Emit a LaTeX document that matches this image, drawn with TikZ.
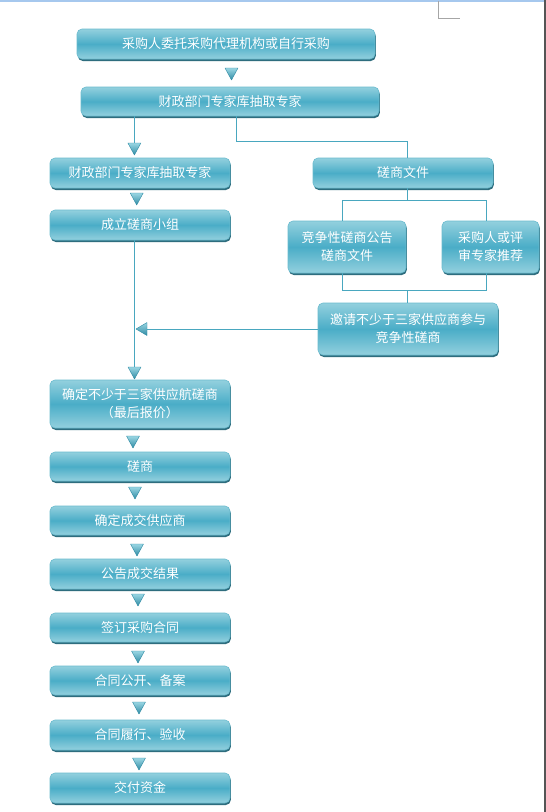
\documentclass[tikz,border=0pt]{standalone}
\usepackage{fontspec}
\newfontfamily\cjk{Noto Sans CJK SC}
\usetikzlibrary{shadows,calc}
\definecolor{conncol}{HTML}{49A7BF}
\definecolor{boxlt}{HTML}{93D0DE}
\definecolor{boxmid}{HTML}{4AADC7}
\definecolor{boxedge}{HTML}{6ABBCE}
\definecolor{boxshadow}{HTML}{2E6D7E}
\definecolor{trilt}{HTML}{9AD6E3}
\definecolor{tridk}{HTML}{2F8BA4}
\definecolor{topcol}{HTML}{A6C8EE}
\definecolor{rightcol}{HTML}{555555}
\tikzset{
  box/.style={rectangle, rounded corners=5pt, draw=boxedge, line width=0.6pt,
    top color=boxlt, bottom color=boxlt, middle color=boxmid, text=white,
    font=\cjk\fontsize{13}{18}\selectfont, align=center, inner sep=0pt,
    drop shadow={shadow xshift=0.8pt, shadow yshift=-2pt, fill=boxshadow, opacity=1}},
  tri/.style={top color=trilt, bottom color=tridk, draw=tridk, line width=0.4pt, line join=round},
  conn/.style={draw=conncol, line width=1pt},
  cornermark/.style={draw=gray!70, line width=0.8pt}
}
\newcommand\bx[6]{\node[box, minimum width={(#3-#2)*1pt}, minimum height={(#5-#4-2)*1pt}] (#1) at ({(#2+#3)/2},{(#4+#5-2)/2}) {#6};}
\newcommand\dtri[3]{\coordinate (#1) at (#2,#3); \shade[tri] (#2-6.5,#3) -- (#2+6.5,#3) -- (#2,#3+12) -- cycle;}
\begin{document}
\begin{tikzpicture}[x=1pt,y=-1pt]
\useasboundingbox (0,0) rectangle (546,812);
\fill[white] (0,0) rectangle (546,812);
\draw[topcol, line width=1.5pt] (0,0.75) -- (545,0.75);
\draw[rightcol, line width=1.5pt] (545,0) -- (545,812);
\draw[cornermark] (438,1) -- (438,18) -- (460,18);

% junction points
\coordinate (j1) at (236.8,141);
\coordinate (j1r) at (407,141);
\coordinate (j2) at (407,200);
\coordinate (j2l) at (342,200);
\coordinate (j2r) at (486,200);
\coordinate (j3) at (407,290);
\coordinate (j3l) at (342,290);
\coordinate (j3r) at (486,290);

% boxes
\bx{b1}{77}{375}{29}{61}{采购人委托采购代理机构或自行采购}
\bx{b2}{81}{379}{87}{118}{财政部门专家库抽取专家}
\bx{b3}{50}{230}{158}{190}{财政部门专家库抽取专家}
\bx{b4}{313}{493}{158}{190}{磋商文件}
\bx{b5}{50}{230}{210}{242}{成立磋商小组}
\bx{b6}{288}{406}{221}{275}{竞争性磋商公告\\磋商文件}
\bx{b7}{442}{539}{221}{275}{采购人或评\\审专家推荐}
\bx{b8}{318}{498}{303}{357}{邀请不少于三家供应商参与\\竞争性磋商}
\bx{b9}{50}{230}{380}{430}{确定不少于三家供应航磋商\\（最后报价）}
\bx{b10}{50}{230}{452}{483}{磋商}
\bx{b11}{50}{230}{506}{537}{确定成交供应商}
\bx{b12}{50}{230}{559}{591}{公告成交结果}
\bx{b13}{50}{230}{613}{644}{签订采购合同}
\bx{b14}{50}{230}{666}{697}{合同公开、备案}
\bx{b15}{50}{230}{720}{752}{合同履行、验收}
\bx{b16}{50}{230}{773}{805}{交付资金}

% triangles
\dtri{t1}{231.5}{68}
\dtri{t2}{134.4}{143}
\dtri{t3}{136.7}{193}
\dtri{t4}{134.5}{367}
\dtri{t5}{133}{436}
\dtri{t6}{135}{487}
\dtri{t7}{137}{544}
\dtri{t8}{138}{594}
\dtri{t9}{138}{651}
\dtri{t10}{139}{702}
\dtri{t11}{139}{758}
\coordinate (tl) at (147,329);
\shade[tri] (147,322.5) -- (147,335.5) -- (136,329) -- cycle;

\draw[conn] (b2.south -| t2) -- (t2);
\draw[conn] (b2.south -| j1) -- (j1) -- (j1r) -- (j1r |- b4.north);
\draw[conn] (j2 |- b4.south) -- (j2);
\draw[conn] (j2l |- b6.north) -- (j2l) -- (j2r) -- (j2r |- b7.north);
\draw[conn] (j3l |- b6.south) -- (j3l) -- (j3r) -- (j3r |- b7.south);
\draw[conn] (j3) -- (j3 |- b8.north);
\draw[conn] (b5.south -| t4) -- (t4);
\draw[conn] (b8.west) -- (tl);
\end{tikzpicture}
\end{document}
